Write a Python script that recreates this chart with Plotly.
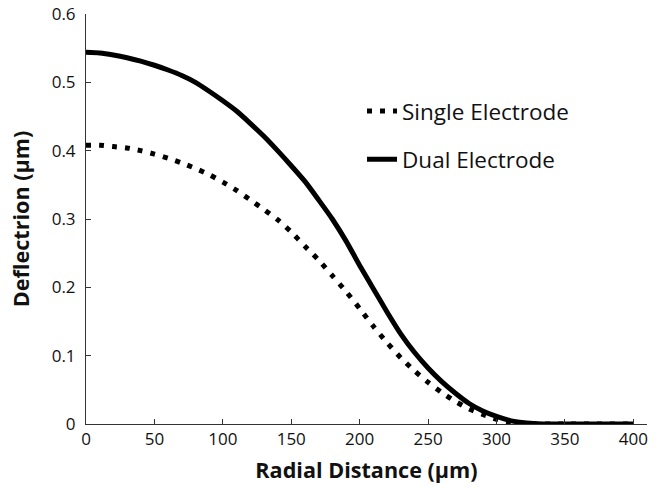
import plotly.graph_objects as go

radial = [0, 10, 20, 30, 40, 50, 60, 70, 80, 90, 100, 110, 120, 130, 140, 150, 160, 170, 180, 190,
          200, 210, 220, 230, 240, 250, 260, 270, 280, 290, 300, 310, 320, 330, 340, 350, 360, 370,
          380, 390, 400]

single_electrode = [0.408, 0.408, 0.406, 0.404, 0.400, 0.395, 0.389, 0.382, 0.374, 0.365, 0.354,
                    0.342, 0.328, 0.314, 0.299, 0.281, 0.260, 0.240, 0.217, 0.194, 0.169, 0.143,
                    0.119, 0.097, 0.078, 0.061, 0.046, 0.033, 0.022, 0.014, 0.007, 0.003, 0.001,
                    0, 0, 0, 0, 0, 0, 0, 0]

dual_electrode = [0.544, 0.543, 0.540, 0.536, 0.531, 0.525, 0.518, 0.510, 0.500, 0.487, 0.473,
                  0.458, 0.440, 0.421, 0.400, 0.378, 0.355, 0.328, 0.300, 0.268, 0.232, 0.198,
                  0.164, 0.132, 0.105, 0.082, 0.062, 0.045, 0.030, 0.019, 0.011, 0.005, 0.002,
                  0.0005, 0, 0, 0, 0, 0, 0, 0]

x_ticks = [0, 50, 100, 150, 200, 250, 300, 350, 400]
y_ticks = [0, 0.1, 0.2, 0.3, 0.4, 0.5, 0.6]
y_tick_labels = ["0", "0.1", "0.2", "0.3", "0.4", "0.5", "0.6"]

FONT = "Open Sans"

fig = go.Figure()
fig.add_trace(go.Scatter(
    x=radial, y=single_electrode, mode="lines", name="Single Electrode",
    legendgroup="a",
    line=dict(color="black", width=5, dash="5px,8px", shape="spline", smoothing=0.6),
))
fig.add_trace(go.Scatter(
    x=radial, y=dual_electrode, mode="lines", name="Dual Electrode",
    legendgroup="b",
    line=dict(color="black", width=5, shape="spline", smoothing=0.6),
))

fig.update_layout(
    width=660, height=488,
    margin=dict(l=86, r=13, t=14, b=64),
    paper_bgcolor="white", plot_bgcolor="white",
    font=dict(family=FONT, color="#111"),
    legend=dict(
        x=0.492, y=0.815, xanchor="left", yanchor="top",
        font=dict(family=FONT, size=22.5, color="#111"),
        traceorder="grouped", tracegroupgap=16,
        bgcolor="rgba(0,0,0,0)",
    ),
    xaxis=dict(
        range=[0, 410], tickvals=x_ticks, ticks="inside", ticklen=5, tickcolor="#333",
        showline=True, linecolor="#333", linewidth=1, showgrid=False, zeroline=False,
        automargin=False,
        tickfont=dict(family=FONT, size=17, color="#111"),
        title=dict(text="<b>Radial Distance (µm)</b>", font=dict(family=FONT, size=21.6, color="#111"),
                   standoff=13),
    ),
    yaxis=dict(
        range=[0, 0.6], tickvals=y_ticks, ticktext=y_tick_labels, ticks="inside", ticklen=5,
        tickcolor="#333", ticklabelstandoff=6,
        showline=True, linecolor="#333", linewidth=1, showgrid=False, zeroline=False,
        automargin=False,
        tickfont=dict(family=FONT, size=17, color="#111"),
        title=dict(text="<b>Deflectrion (µm)</b>", font=dict(family=FONT, size=21.6, color="#111"),
                   standoff=16),
    ),
)

fig.write_html("out.html", config={"displayModeBar": False},
               post_script="document.body.style.margin='0';")
